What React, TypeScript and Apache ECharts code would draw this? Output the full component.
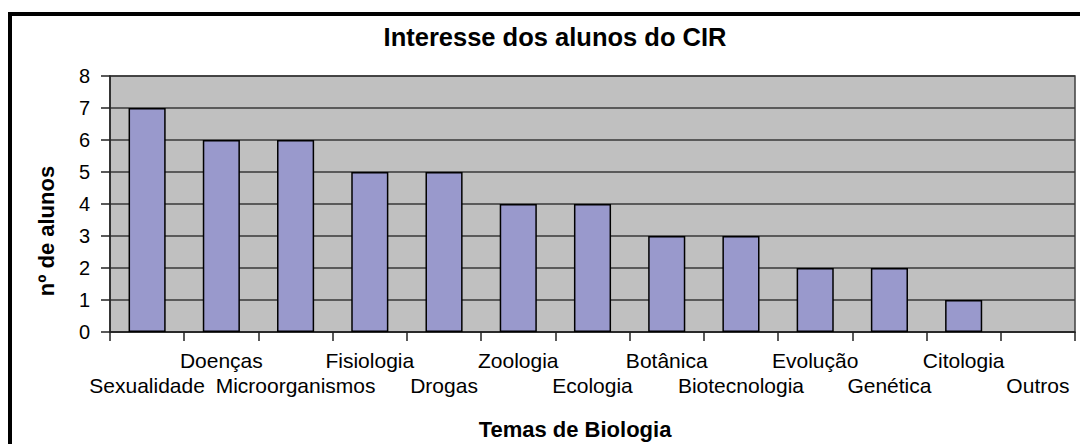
import React, { useEffect, useRef } from "react";
import * as echarts from "echarts";

const categories = [
  "Sexualidade",
  "Doenças",
  "Microorganismos",
  "Fisiologia",
  "Drogas",
  "Zoologia",
  "Ecologia",
  "Botânica",
  "Biotecnologia",
  "Evolução",
  "Genética",
  "Citologia",
  "Outros",
];
const values = [7, 6, 6, 5, 5, 4, 4, 3, 3, 2, 2, 1, 0];
const yTicks = [0, 1, 2, 3, 4, 5, 6, 7, 8];

const titleText = "Interesse dos alunos do CIR";
const xName = "Temas de Biologia";
const yName = "nº de alunos";

const FONT = "'Liberation Sans', Arial, sans-serif";

export default function App() {
  const ref = useRef<HTMLDivElement>(null);
  useEffect(() => {
    if (!ref.current) return;
    const chart = echarts.init(ref.current, undefined, { renderer: "svg" });
    chart.setOption({
      animation: false,
      backgroundColor: "#ffffff",
      textStyle: { fontFamily: FONT },
      title: {
        text: titleText,
        left: 550,
        top: 19,
        textAlign: "center",
        textStyle: { fontFamily: FONT, fontSize: 25.5, fontWeight: "bold", color: "#000" },
      },
      grid: {
        left: 110,
        right: 5,
        top: 76,
        bottom: 112,
        show: true,
        backgroundColor: "#C0C0C0",
        borderColor: "#404040",
        borderWidth: 1.5,
        containLabel: false,
      },
      xAxis: {
        type: "category",
        data: categories,
        axisLine: { lineStyle: { color: "#222", width: 1.5 } },
        axisTick: { show: true, length: 9, interval: 0, lineStyle: { color: "#222", width: 1.5 } },
        axisLabel: {
          interval: 0,
          margin: 16,
          color: "#000",
          fontFamily: FONT,
          fontSize: 21,
          lineHeight: 25,
          hideOverlap: false,
          formatter: (v: string, i: number) => (i % 2 === 0 ? "\n" + v : v),
        },
      },
      yAxis: {
        type: "value",
        min: yTicks[0],
        max: yTicks[yTicks.length - 1],
        interval: 1,
        axisLine: { show: true, lineStyle: { color: "#222", width: 1.5 } },
        axisTick: { show: true, length: 9, lineStyle: { color: "#222", width: 1.5 } },
        axisLabel: { margin: 20, color: "#000", fontFamily: FONT, fontSize: 20 },
        splitLine: { show: true, lineStyle: { color: "#383838", width: 1.6 } },
      },
      series: [
        {
          type: "bar",
          data: values.map((v) => (v === 0 ? { value: v, itemStyle: { borderWidth: 0 } } : v)),
          barCategoryGap: "50%",
          itemStyle: { color: "#9999CC", borderColor: "#000", borderWidth: 1.5 },
        },
      ],
      graphic: [
        {
          type: "rect",
          shape: { x: 10, y: 14, width: 1100, height: 500 },
          style: { fill: "none", stroke: "#000", lineWidth: 4 },
          silent: true,
        },
        {
          type: "text",
          x: 575,
          y: 429,
          style: {
            text: xName,
            fontFamily: FONT,
            fontSize: 22,
            fontWeight: "bold",
            fill: "#000",
            textAlign: "center",
            textVerticalAlign: "middle",
          },
        },
        {
          type: "text",
          x: 46,
          y: 231,
          rotation: Math.PI / 2,
          style: {
            text: yName,
            fontFamily: FONT,
            fontSize: 22,
            fontWeight: "bold",
            fill: "#000",
            textAlign: "center",
            textVerticalAlign: "middle",
          },
        },
      ],
    });
    return () => chart.dispose();
  }, []);
  return (
    <div
      ref={ref}
      style={{ position: "fixed", left: 0, top: 0, width: 1080, height: 444, background: "#fff" }}
    />
  );
}
